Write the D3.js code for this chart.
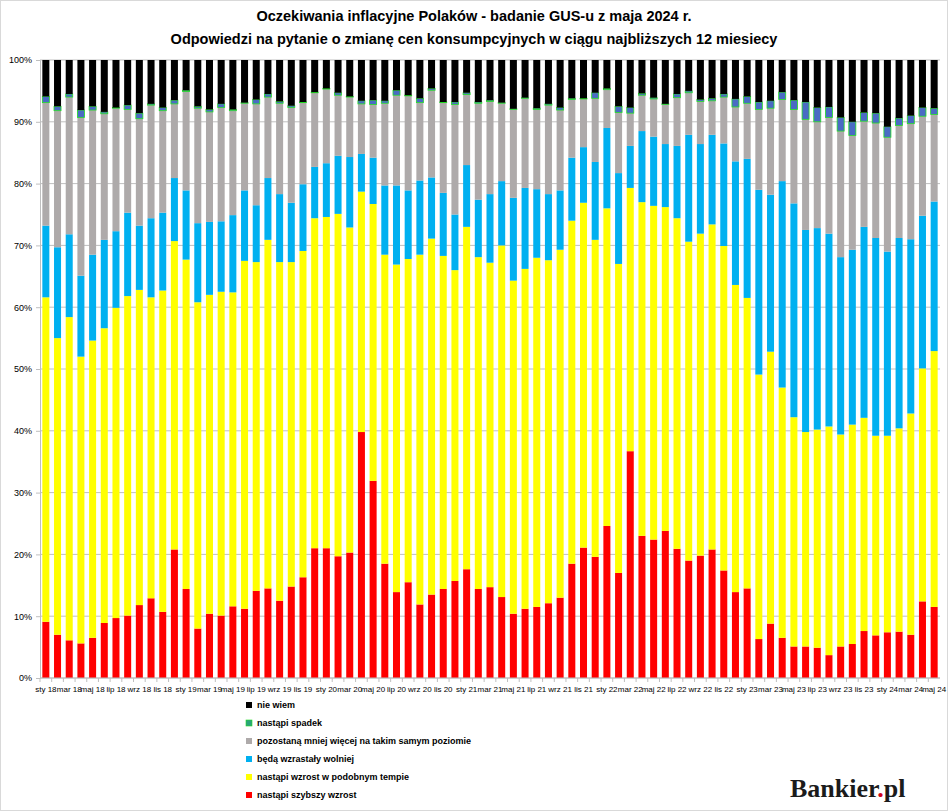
<!DOCTYPE html>
<html>
<head>
<meta charset="utf-8">
<script src="https://cdn.jsdelivr.net/npm/d3@7"></script>
<style>
  body { margin: 0; background: #fff; }
  svg { display: block; }
</style>
</head>
<body>
<svg id="chart"></svg>
<script>
// months Jan 2018 - May 2024
const months = [
  "sty 18","lut 18","mar 18","kwi 18","maj 18","cze 18","lip 18","sie 18","wrz 18","paź 18","lis 18","gru 18",
  "sty 19","lut 19","mar 19","kwi 19","maj 19","cze 19","lip 19","sie 19","wrz 19","paź 19","lis 19","gru 19",
  "sty 20","lut 20","mar 20","kwi 20","maj 20","cze 20","lip 20","sie 20","wrz 20","paź 20","lis 20","gru 20",
  "sty 21","lut 21","mar 21","kwi 21","maj 21","cze 21","lip 21","sie 21","wrz 21","paź 21","lis 21","gru 21",
  "sty 22","lut 22","mar 22","kwi 22","maj 22","cze 22","lip 22","sie 22","wrz 22","paź 22","lis 22","gru 22",
  "sty 23","lut 23","mar 23","kwi 23","maj 23","cze 23","lip 23","sie 23","wrz 23","paź 23","lis 23","gru 23",
  "sty 24","lut 24","mar 24","kwi 24","maj 24"
];

// shares in %
const szybszyWzrost = [
  9.1,7.0,6.1,5.6,6.5,8.9,9.7,10.1,11.8,12.9,10.7,20.8,
  14.4,8.0,10.4,10.1,11.6,11.2,14.1,14.5,12.5,14.8,16.3,21.0,
  21.0,19.7,20.3,39.8,31.9,18.5,13.9,15.5,11.9,13.5,14.4,15.7,
  17.6,14.4,14.7,13.1,10.4,11.2,11.5,12.1,13.0,18.5,21.1,19.6,
  24.6,17.0,36.7,23.0,22.4,23.8,20.9,19.0,19.8,20.8,17.4,13.9,
  14.5,6.3,8.8,6.5,5.1,5.1,4.9,3.7,5.1,5.5,7.6,6.9,
  7.4,7.5,7.0,12.4,11.5
];
const podobnyWzrost = [
  52.5,48.0,52.3,46.4,48.1,47.7,50.2,51.7,51.0,48.7,52.0,49.9,
  53.3,52.8,51.6,52.4,50.8,56.3,53.2,56.4,54.8,52.5,52.8,53.4,
  53.6,55.4,52.6,38.9,44.8,50.0,53.0,52.3,56.6,57.6,53.9,50.3,
  55.4,53.7,52.5,56.9,53.9,55.0,56.5,55.5,56.3,55.5,55.8,51.3,
  51.4,50.0,42.6,54.0,54.0,52.4,53.5,51.6,52.1,52.6,52.5,49.7,
  47.0,42.8,44.0,40.5,37.1,34.7,35.3,37.0,34.3,35.5,34.5,32.3,
  31.8,32.9,35.8,37.7,41.4
];
const wolniej = [
  11.6,14.7,13.4,13.1,13.9,14.3,12.4,13.5,10.4,12.8,12.6,10.2,
  11.2,12.8,11.8,11.4,12.5,11.4,9.2,10.0,11.0,9.6,10.8,8.3,
  8.7,9.4,11.4,6.1,7.5,11.2,12.8,11.1,12.0,9.9,10.2,9.0,
  10.0,9.3,11.1,10.4,13.4,13.1,11.1,10.7,9.6,10.2,9.0,12.6,
  13.0,14.7,6.8,11.5,11.2,10.2,11.7,17.3,14.5,14.5,16.6,20.0,
  22.5,29.9,25.4,33.4,34.6,32.7,32.6,31.2,28.7,28.3,30.9,32.0,
  29.8,30.8,28.2,24.7,24.2
];
const takiSam = [
  19.9,22.1,22.2,25.6,23.4,20.4,19.9,16.7,17.3,18.3,16.5,12.0,
  16.0,18.6,17.8,18.4,16.9,14.1,16.4,13.1,14.7,15.4,13.2,12.0,
  12.0,9.8,9.7,8.1,8.6,13.3,14.6,15.3,12.6,14.1,14.6,17.8,
  11.4,15.6,15.0,12.6,14.3,14.5,12.9,14.4,13.0,9.4,7.8,10.3,
  6.2,9.8,5.3,5.8,6.1,6.4,7.8,6.8,6.9,5.5,7.5,8.8,
  9.0,13.0,14.0,13.2,15.2,17.9,17.2,18.8,20.4,18.5,17.1,18.6,
  18.5,18.2,18.7,16.1,14.1
];
const spadek = [
  1.0,0.7,0.5,1.2,0.6,0.3,0.1,0.7,0.9,0.2,0.5,0.6,
  0.2,0.3,0.4,0.6,0.2,0.1,0.7,0.5,0.3,0.3,0.1,0.1,
  0.1,0.4,0.1,0.5,0.7,0.4,0.8,0.1,0.7,0.3,0.1,0.4,
  0.3,0.2,0.2,0.1,0.1,0.1,0.2,0.2,0.4,0.2,0.1,0.9,
  0.2,1.0,0.9,0.3,0.2,0.1,0.6,0.3,0.3,0.4,0.5,1.3,
  1.1,1.2,1.2,1.2,1.5,2.8,2.3,1.7,2.2,2.2,1.4,1.6,
  1.7,1.2,1.3,1.4,1.0
];
const nieWiem = [
  5.9,7.5,5.5,8.1,7.5,8.4,7.7,7.3,8.6,7.1,7.7,6.5,
  4.9,7.5,8.0,7.1,8.0,6.9,6.4,5.5,6.7,7.4,6.8,5.2,
  4.6,5.3,5.9,6.6,6.5,6.6,4.9,5.7,6.2,4.6,6.8,6.8,
  5.3,6.8,6.5,6.9,7.9,6.1,7.8,7.1,7.7,6.2,6.2,5.3,
  4.6,7.5,7.7,5.4,6.1,7.1,5.5,5.0,6.4,6.2,5.5,6.3,
  5.9,6.8,6.6,5.2,6.5,6.8,7.7,7.6,9.3,10.0,8.5,8.6,
  10.8,9.4,9.0,7.7,7.8
];

const series = [
  { key: "szybszy", name: "nastąpi szybszy wzrost", values: szybszyWzrost, color: "#ff0000" },
  { key: "podobny", name: "nastąpi wzrost w podobnym tempie", values: podobnyWzrost, color: "#ffff00" },
  { key: "wolniej", name: "będą wzrastały wolniej", values: wolniej, color: "#00b0f0" },
  { key: "taki", name: "pozostaną mniej więcej na takim samym poziomie", values: takiSam, color: "#aeaaaa" },
  { key: "spadek", name: "nastąpi spadek", values: spadek, color: "#4a6bc4", stroke: "#22dd22" },
  { key: "niewiem", name: "nie wiem", values: nieWiem, color: "#000000" }
];

const rows = months.map((m, i) => {
  const r = { month: m };
  series.forEach(s => r[s.key] = s.values[i]);
  return r;
});

const width = 948, height = 811;
const margin = { top: 60, right: 8, bottom: 133, left: 40 };
const innerW = width - margin.left - margin.right;
const innerH = height - margin.top - margin.bottom;

const svg = d3.select("#chart").attr("width", width).attr("height", height);

svg.append("rect")
  .attr("x", 0.5).attr("y", 0.5)
  .attr("width", width - 1).attr("height", height - 1)
  .attr("fill", "#fff").attr("stroke", "#d9d9d9");

// title
const title = svg.append("g").attr("font-family", "Liberation Sans, Arial, sans-serif")
  .attr("font-weight", "bold").attr("font-size", "14.5px").attr("text-anchor", "middle").attr("fill", "#000");
title.append("text").attr("x", width / 2).attr("y", 21)
  .text("Oczekiwania inflacyjne Polaków - badanie GUS-u z maja 2024 r.");
title.append("text").attr("x", width / 2).attr("y", 44)
  .text("Odpowiedzi na pytanie o zmianę cen konsumpcyjnych w ciągu najbliższych 12 miesiecy");

const g = svg.append("g").attr("transform", `translate(${margin.left},${margin.top})`);

const x = d3.scaleBand().domain(months).range([0, innerW]).paddingInner(0.4).paddingOuter(0.2);
const y = d3.scaleLinear().domain([0, 100]).range([innerH, 0]);

// gridlines
g.append("g")
  .selectAll("line")
  .data(y.ticks(10))
  .join("line")
  .attr("x1", 0).attr("x2", innerW)
  .attr("y1", d => y(d)).attr("y2", d => y(d))
  .attr("stroke", "#bfbfbf").attr("stroke-width", 1);

const stack = d3.stack().keys(series.map(s => s.key));
const stacked = stack(rows);

g.append("g")
  .selectAll("g")
  .data(stacked)
  .join("g")
  .each(function (layer, li) {
    const s = series[li];
    d3.select(this).selectAll("rect")
      .data(layer)
      .join("rect")
      .attr("x", d => x(d.data.month))
      .attr("width", x.bandwidth())
      .attr("y", d => y(d[1]))
      .attr("height", d => Math.max(0, y(d[0]) - y(d[1])))
      .attr("fill", s.color)
      .attr("stroke", s.stroke || "none")
      .attr("stroke-width", s.stroke ? 0.8 : 0);
  });

// y axis
const yAxis = g.append("g")
  .call(d3.axisLeft(y).ticks(10).tickFormat(d => d + "%").tickSize(4).tickPadding(4));
yAxis.select(".domain").attr("stroke", "#bfbfbf");
yAxis.selectAll(".tick line").attr("stroke", "#bfbfbf");
yAxis.selectAll("text").attr("font-family", "Liberation Sans, Arial, sans-serif")
  .attr("font-size", "9px").attr("fill", "#000");

// x axis
const xAxis = g.append("g").attr("transform", `translate(0,${innerH})`);
xAxis.append("line").attr("x1", 0).attr("x2", innerW).attr("stroke", "#bfbfbf");
xAxis.selectAll("line.tk")
  .data(months)
  .join("line")
  .attr("class", "tk")
  .attr("x1", d => x(d) - x.step() * x.paddingInner() / 2)
  .attr("x2", d => x(d) - x.step() * x.paddingInner() / 2)
  .attr("y1", 0).attr("y2", 4)
  .attr("stroke", "#bfbfbf");
xAxis.selectAll("text")
  .data(months.filter((d, i) => i % 2 === 0))
  .join("text")
  .attr("x", d => x(d) + x.bandwidth() / 2)
  .attr("y", 14)
  .attr("text-anchor", "middle")
  .attr("font-family", "Liberation Sans Narrow, Liberation Sans, Arial, sans-serif")
  .attr("font-size", "8px")
  .attr("fill", "#000")
  .text(d => d);

// legend
const legend = svg.append("g").attr("transform", "translate(246,708)");
series.slice().reverse().forEach((s, i) => {
  const item = legend.append("g").attr("transform", `translate(0,${i * 18})`);
  item.append("rect")
    .attr("x", 0).attr("y", -6)
    .attr("width", 6).attr("height", 6)
    .attr("fill", s.stroke ? "#2aa37a" : s.color)
    .attr("stroke", s.stroke ? "#22dd22" : "none")
    .attr("stroke-width", 0.6);
  item.append("text")
    .attr("x", 11).attr("y", 0)
    .attr("font-family", "Liberation Sans, Arial, sans-serif")
    .attr("font-size", "9px").attr("font-weight", "bold")
    .attr("fill", "#000")
    .text(s.name);
});

// logo
const logo = svg.append("text").attr("x", 790).attr("y", 797)
  .attr("font-family", "Liberation Serif, DejaVu Serif, serif")
  .attr("font-weight", "bold").attr("font-size", "26px").attr("fill", "#1b1b1b");
logo.append("tspan").text("Bankier");
logo.append("tspan").attr("fill", "#d0021b").text(".");
logo.append("tspan").text("pl");
</script>
</body>
</html>
